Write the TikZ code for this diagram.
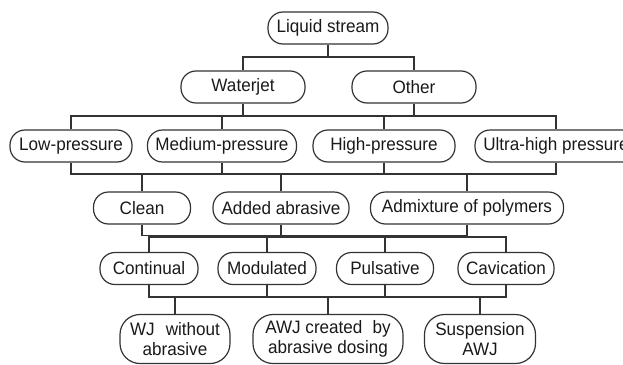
\documentclass[tikz,border=0pt]{standalone}
\usepackage{fontspec}
\setmainfont{Liberation Sans}[FakeStretch=0.95]
\begin{document}
\begin{tikzpicture}[x=1pt,y=-1pt,
  bx/.style={draw=black!80, line width=1.2pt, rounded corners=15pt, minimum height=32pt,
     inner sep=0pt, font=\fontsize{18}{20}\selectfont, text=black!90},
  bx2/.style={draw=black!80, line width=1.2pt, rounded corners=20pt, minimum height=49pt,
     inner sep=0pt, align=center, font=\fontsize{18}{20}\selectfont, text=black!90},
  conn/.style={draw=black!80, line width=1.2pt}]
\useasboundingbox (0,0) rectangle (623,364);
\clip (0,0) rectangle (623,364);
% level 1
\node[bx, minimum width=120pt] (ls) at (328,28) {Liquid stream};
% level 2
\node[bx, minimum width=124pt] (wj) at (243,87) {Waterjet};
\node[bx, minimum width=124pt] (ot) at (414,87) {Other};
% level 3
\node[bx, minimum width=122pt] (lp) at (71,146) {Low-pressure};
\node[bx, minimum width=149pt] (mp) at (222,146) {Medium-pressure};
\node[bx, minimum width=142pt] (hp) at (384,146) {High-pressure};
\node[bx, minimum width=162pt] (uh) at (556,146) {Ultra-high pressure};
% level 4
\node[bx, minimum width=97pt] (cl) at (142,208) {Clean};
\node[bx, minimum width=136pt] (aa) at (281,208) {Added abrasive};
\node[bx, minimum width=193pt] (ap) at (467,208) {Admixture of polymers};
% level 5
\node[bx, minimum width=98pt] (co) at (149,268.5) {Continual};
\node[bx, minimum width=98pt] (mo) at (267,268.5) {Modulated};
\node[bx, minimum width=97pt] (pu) at (385,268.5) {Pulsative};
\node[bx, minimum width=96pt] (ca) at (506,268.5) {Cavication};
% level 6
\node[bx2, minimum width=110pt] (wa) at (175,339) {WJ\hspace{0.35em} without\\abrasive};
\node[bx2, minimum width=150pt] (awj) at (328,339) {AWJ created\hspace{0.3em} by\\abrasive dosing};
\node[bx2, minimum width=111pt] (su) at (480,339) {Suspension\\AWJ};
% bus coordinates
\coordinate (b1) at (0,57);
\coordinate (b2) at (0,116);
\coordinate (b3) at (0,174);
\coordinate (b4) at (0,235.5);
\coordinate (b5) at (0,237);
\coordinate (b6) at (0,297);
% connectors level 1-2
\draw[conn] (ls.south) -- (ls.south |- b1);
\draw[conn] (wj.north) |- (ot.north |- b1) -- (ot.north);
% level 2-3
\draw[conn] (wj.south) -- (wj.south |- b2);
\draw[conn] (ot.south) -- (ot.south |- b2);
\draw[conn] (lp.north) |- (uh.north |- b2) -- (uh.north);
\draw[conn] (mp.north) -- (mp.north |- b2);
\draw[conn] (hp.north) -- (hp.north |- b2);
% level 3-4
\draw[conn] (lp.south) |- (uh.south |- b3) -- (uh.south);
\draw[conn] (mp.south) -- (mp.south |- b3);
\draw[conn] (hp.south) -- (hp.south |- b3);
\draw[conn] (cl.north) -- (cl.north |- b3);
\draw[conn] (aa.north) -- (aa.north |- b3);
\draw[conn] (ap.north) -- (ap.north |- b3);
% level 4-5
\draw[conn] (cl.south) |- (ap.south |- b4) -- (ap.south);
\draw[conn] (aa.south) -- (aa.south |- b4);
\draw[conn] (co.north) |- (ca.north |- b5) -- (ca.north);
\draw[conn] (mo.north) -- (mo.north |- b5);
\draw[conn] (pu.north) -- (pu.north |- b5);
% level 5-6
\draw[conn] (co.south) |- (ca.south |- b6) -- (ca.south);
\draw[conn] (mo.south) -- (mo.south |- b6);
\draw[conn] (pu.south) -- (pu.south |- b6);
\draw[conn] (wa.north) -- (wa.north |- b6);
\draw[conn] (awj.north) -- (awj.north |- b6);
\draw[conn] (su.north) -- (su.north |- b6);
\end{tikzpicture}
\end{document}
